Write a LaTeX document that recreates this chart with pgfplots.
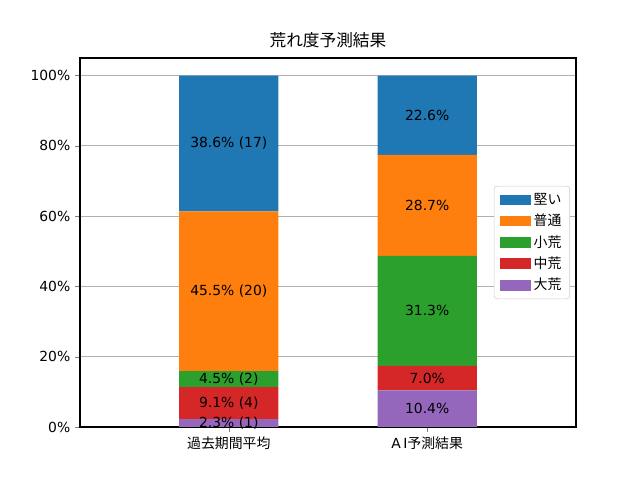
\documentclass[border=0pt]{standalone}
\usepackage{pgfplots}
\pgfplotsset{compat=1.18}
\usepackage{fontspec}
\setmainfont{DejaVu Sans}
\newfontfamily\jp{Noto Sans CJK JP}
\definecolor{c1}{HTML}{1F77B4}
\definecolor{c2}{HTML}{FF7F0E}
\definecolor{c3}{HTML}{2CA02C}
\definecolor{c4}{HTML}{D62728}
\definecolor{c5}{HTML}{9467BD}
\begin{document}
\begin{tikzpicture}
\path[use as bounding box] (-57.6pt,-38.16pt) rectangle (403.2pt,307.44pt);
\begin{axis}[
  at={(0,0)}, anchor=south west,
  scale only axis, width=357.12pt, height=265.68pt,
  xmin=-0.75, xmax=1.75, ymin=0, ymax=105,
  ybar stacked, bar width=0.5,
  xtick={0,1}, xticklabels={{\jp 過去期間平均}, {A\,I\jp 予測結果}},
  ytick={0,20,40,60,80,100},
  yticklabel={\pgfmathprintnumber{\tick}\%},
  /pgf/number format/assume math mode=true,
  tick label style={font=\fontsize{10}{12}\selectfont},
  tick align=outside, major tick length=3.5pt,
  xtick pos=bottom, ytick pos=left,
  ymajorgrids, grid style={color=black!31, line width=0.8pt},
  axis line style={line width=0.8pt},
  title={\jp 荒れ度予測結果},
  title style={font=\fontsize{12}{14}\selectfont, yshift=-2pt},
  legend style={at={(0.988,0.5)}, anchor=east, draw=black!20, rounded corners=2pt,
    font=\fontsize{10}{12}\jp, row sep=1.5pt, inner xsep=4pt, inner ysep=3pt},
  legend cell align=left,
]
\addlegendimage{legend image code/.code={\fill[c1, sharp corners] (-2pt,-3.5pt) rectangle (20pt,3.5pt);}}
\addlegendentry{堅い}
\addlegendimage{legend image code/.code={\fill[c2, sharp corners] (-2pt,-3.5pt) rectangle (20pt,3.5pt);}}
\addlegendentry{普通}
\addlegendimage{legend image code/.code={\fill[c3, sharp corners] (-2pt,-3.5pt) rectangle (20pt,3.5pt);}}
\addlegendentry{小荒}
\addlegendimage{legend image code/.code={\fill[c4, sharp corners] (-2pt,-3.5pt) rectangle (20pt,3.5pt);}}
\addlegendentry{中荒}
\addlegendimage{legend image code/.code={\fill[c5, sharp corners] (-2pt,-3.5pt) rectangle (20pt,3.5pt);}}
\addlegendentry{大荒}
\addplot[fill=c5, draw=none, forget plot] coordinates {(0,2.2727) (1,10.4)};
\addplot[fill=c4, draw=none, forget plot] coordinates {(0,9.0909) (1,7.0)};
\addplot[fill=c3, draw=none, forget plot] coordinates {(0,4.5455) (1,31.3)};
\addplot[fill=c2, draw=none, forget plot] coordinates {(0,45.4545) (1,28.7)};
\addplot[fill=c1, draw=none, forget plot] coordinates {(0,38.6364) (1,22.6)};
\end{axis}
\begin{axis}[
  at={(0,0)}, anchor=south west,
  scale only axis, width=357.12pt, height=265.68pt,
  xmin=-0.75, xmax=1.75, ymin=0, ymax=105,
  hide axis,
]
\addplot[only marks, mark=none, point meta=explicit symbolic,
  nodes near coords, nodes near coords align={center},
  every node near coord/.append style={font=\fontsize{10}{12}\selectfont, text=black, anchor=center}]
  table[meta=label, col sep=comma] {
x,y,label
0,1.136,2.3\% (1)
0,6.818,9.1\% (4)
0,13.636,4.5\% (2)
0,38.636,45.5\% (20)
0,80.682,38.6\% (17)
1,5.2,10.4\%
1,13.9,7.0\%
1,33.05,31.3\%
1,63.05,28.7\%
1,88.7,22.6\%
};
\end{axis}
\end{tikzpicture}
\end{document}
